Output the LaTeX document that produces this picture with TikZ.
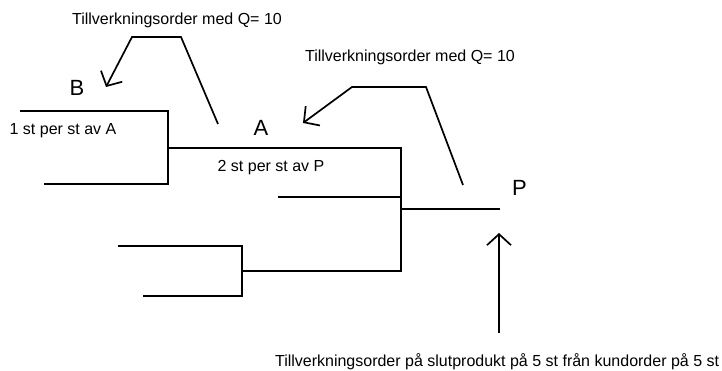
\documentclass[tikz,border=0pt]{standalone}
\usepackage{fontspec}
\setmainfont{Liberation Sans}
\usetikzlibrary{arrows.meta}
\tikzset{
    txt/.style={inner sep=0pt,font=\fontsize{16}{18}\selectfont},
    lbl/.style={inner sep=0pt,font=\fontsize{22}{24}\selectfont},
    order/.style={-{Straight Barb[length=11pt,width=24pt,line width=1.7pt]}},
}
\begin{document}
\begin{tikzpicture}[x=1pt,y=-1pt,line width=1.7pt]
            \useasboundingbox (0,0) rectangle (722,371);
            \node(B)[lbl] at (77,88){B};
            \node(A)[lbl] at (261,128){A};
            \node(P)[lbl] at (519.5,188){P};
            \node(perA)[txt] at (63,131){1 st per st av A};
            \node(perP)[txt] at (271,168){2 st per st av P};
            \node(ordA)[txt] at (177,20){Tillverkningsorder med Q= 10};
            \node(ordP)[txt] at (410,57){Tillverkningsorder med Q= 10};
            \node(kund)[txt,anchor=east] at (720,362){Tillverkningsorder på slutprodukt på 5 st från kundorder på 5 st};
            \coordinate(Bjoin) at (168,148);
            \coordinate(Cjoin) at (242,271);
            \coordinate(Ajoin) at (401,209);
            \coordinate(Pend) at (500,209);
            \draw (20,111) -- (168,111) -- (Bjoin) |- (44,184);
            \draw (Bjoin) -- (401,148) -- (401,271) -- (Cjoin);
            \draw (278,197) -- (401,197);
            \draw (Ajoin) -- (Pend);
            \draw (118,246) -- (242,246) -- (Cjoin) |- (143,296);
            \draw[order] (218,124) -- (181,37) -- (132,37) -- (106,87);
            \draw[order] (463,185) -- (426,87) -- (352,87) -- (303,123);
            \draw[order] (499,333) -- (499,233);
        \end{tikzpicture}
\end{document}
